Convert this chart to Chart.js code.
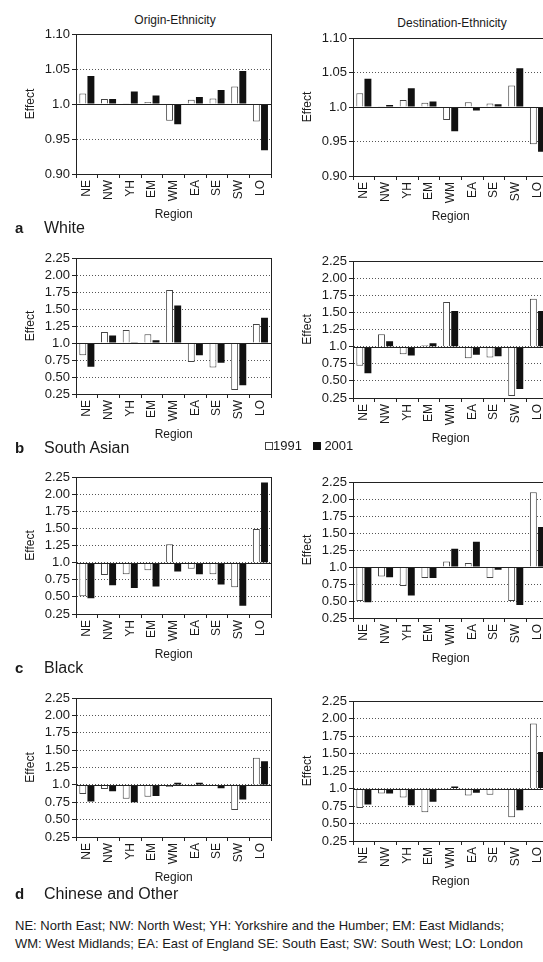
<!DOCTYPE html>
<html>
<head>
<meta charset="utf-8">
<script src="https://cdn.jsdelivr.net/npm/chart.js@4.4.1/dist/chart.umd.min.js"></script>
<style>
html, body { margin:0; padding:0; width:543px; height:962px; overflow:hidden; background:#fff; }
body { position:relative; font-family:"Liberation Sans", Arial, sans-serif; color:#1a1a1a; }
canvas { position:absolute; }
.t { position:absolute; white-space:nowrap; line-height:1; }
.c { transform:translateX(-50%); }
.box { display:inline-block; width:8px; height:8px; box-sizing:border-box; vertical-align:0; }
</style>
</head>
<body>

<div class="t c" style="left:175px; top:14px; font-size:12px;">Origin-Ethnicity</div>
<div class="t c" style="left:452px; top:17px; font-size:12px;">Destination-Ethnicity</div>

<canvas id="aLeft"></canvas><canvas id="aRight"></canvas>
<canvas id="bLeft"></canvas><canvas id="bRight"></canvas>
<canvas id="cLeft"></canvas><canvas id="cRight"></canvas>
<canvas id="dLeft"></canvas><canvas id="dRight"></canvas>

<div class="t" style="left:15px; top:220px; font-size:15px; font-weight:bold;">a</div>
<div class="t" style="left:44px; top:220px; font-size:16px;">White</div>
<div class="t" style="left:15px; top:440px; font-size:15px; font-weight:bold;">b</div>
<div class="t" style="left:44px; top:440px; font-size:16px;">South Asian</div>
<div class="t" style="left:15px; top:660px; font-size:15px; font-weight:bold;">c</div>
<div class="t" style="left:44px; top:660px; font-size:16px;">Black</div>
<div class="t" style="left:15px; top:886px; font-size:15px; font-weight:bold;">d</div>
<div class="t" style="left:44px; top:886px; font-size:16px;">Chinese and Other</div>

<!-- legend -->
<div class="t" style="left:265px; top:439px; font-size:13px;">
  <span class="box" style="border:1px solid #444; background:#fff;"></span>1991&nbsp;&nbsp;
  <span class="box" style="background:#111;"></span> 2001
</div>

<div class="t" style="left:15px; top:919px; font-size:13px;">NE: North East; NW: North West; YH: Yorkshire and the Humber; EM: East Midlands;</div>
<div class="t" style="left:15px; top:937px; font-size:13px;">WM: West Midlands; EA: East of England SE: South East; SW: South West; LO: London</div>

<script>
// regions along the x axis
const regions = ['NE', 'NW', 'YH', 'EM', 'WM', 'EA', 'SE', 'SW', 'LO'];

// y axis ticks and their labels
const whiteTicks = [0.90, 0.95, 1.0, 1.05, 1.10];
const whiteTickLabels = ['0.90', '0.95', '1.0', '1.05', '1.10'];
const otherTicks = [0.25, 0.50, 0.75, 1.0, 1.25, 1.50, 1.75, 2.00, 2.25];
const otherTickLabels = ['0.25', '0.50', '0.75', '1.0', '1.25', '1.50', '1.75', '2.00', '2.25'];

// a White
const whiteOrigin1991 = [1.015, 1.007, 1.001, 1.003, 0.976, 1.006, 1.008, 1.025, 0.975];
const whiteOrigin2001 = [1.040, 1.007, 1.018, 1.012, 0.971, 1.010, 1.020, 1.047, 0.934];
const whiteDest1991 = [1.020, 1.001, 1.010, 1.006, 0.981, 1.007, 1.005, 1.031, 0.946];
const whiteDest2001 = [1.041, 1.003, 1.027, 1.008, 0.965, 0.995, 1.004, 1.056, 0.935];

// b South Asian
const asianOrigin1991 = [0.82, 1.16, 1.19, 1.13, 1.78, 0.72, 0.64, 0.31, 1.28];
const asianOrigin2001 = [0.65, 1.11, 1.01, 1.04, 1.55, 0.82, 0.71, 0.38, 1.37];
const asianDest1991 = [0.72, 1.18, 0.89, 1.02, 1.65, 0.83, 0.84, 0.28, 1.70];
const asianDest2001 = [0.61, 1.08, 0.87, 1.05, 1.52, 0.88, 0.86, 0.38, 1.52];

// c Black
const blackOrigin1991 = [0.51, 0.82, 0.83, 0.89, 1.27, 0.91, 0.83, 0.64, 1.49];
const blackOrigin2001 = [0.48, 0.67, 0.63, 0.65, 0.87, 0.83, 0.68, 0.37, 2.17];
const blackDest1991 = [0.50, 0.86, 0.72, 0.84, 1.08, 1.06, 0.84, 0.50, 2.10];
const blackDest2001 = [0.48, 0.85, 0.58, 0.84, 1.27, 1.37, 0.96, 0.44, 1.59];

// d Chinese and Other
const otherOrigin1991 = [0.87, 0.94, 0.80, 0.83, 0.97, 0.98, 0.99, 0.64, 1.39];
const otherOrigin2001 = [0.76, 0.91, 0.75, 0.84, 1.03, 1.03, 0.95, 0.79, 1.34];
const otherDest1991 = [0.72, 0.93, 0.87, 0.66, 0.98, 0.90, 0.91, 0.59, 1.93];
const otherDest2001 = [0.77, 0.93, 0.76, 0.81, 1.03, 0.94, 0.99, 0.69, 1.52];

Chart.defaults.font.family = '"Liberation Sans", Arial, sans-serif';
Chart.defaults.color = '#1a1a1a';

//plot frame and the solid line at 1.0
const frame = {
  id: 'frame',
  afterDatasetsDraw(chart) {
    const {ctx, chartArea: a, scales: {y}} = chart;
    const base = Math.round(y.getPixelForValue(1)) + 0.5;
    ctx.save();
    ctx.strokeStyle = '#222';
    ctx.lineWidth = 1;
    ctx.beginPath();
    ctx.moveTo(a.left, base);
    ctx.lineTo(a.right, base);
    ctx.stroke();
    ctx.strokeRect(Math.round(a.left) + 0.5, Math.round(a.top) + 0.5, Math.round(a.width), Math.round(a.height));
    ctx.restore();
  }
};

//draw one panel; plot area starts 76px right of the canvas edge
function drawPanel(id, left, top, height, v1991, v2001, ticks, tickLabels) {
  const canvas = document.getElementById(id);
  canvas.width = 277;
  canvas.height = height + 60;
  canvas.style.left = left + 'px';
  canvas.style.top = (top - 10) + 'px';

  new Chart(canvas, {
    type: 'bar',
    data: {
      labels: regions,
      datasets: [
        {label: '1991', data: v1991, base: 1, backgroundColor: '#fff', borderColor: '#444', borderWidth: 1},
        {label: '2001', data: v2001, base: 1, backgroundColor: '#111', borderWidth: 0}
      ]
    },
    options: {
      responsive: false,
      animation: false,
      layout: {padding: {top: 10, left: 23, right: 3, bottom: 2}},
      plugins: {legend: {display: false}, tooltip: {enabled: false}},
      datasets: {bar: {categoryPercentage: 0.75, barPercentage: 0.85}},
      scales: {
        x: {
          grid: {drawOnChartArea: false, tickLength: 4, tickColor: '#222'},
          border: {color: '#222'},
          ticks: {minRotation: 90, maxRotation: 90, autoSkip: false, padding: 2, font: {size: 12}},
          title: {display: true, text: 'Region', padding: 0, font: {size: 12}},
          afterFit: s => { s.height = 48; }
        },
        y: {
          min: ticks[0],
          max: ticks[ticks.length - 1],
          afterBuildTicks: s => { s.ticks = ticks.map(v => ({value: v})); },
          grid: {color: '#555', tickLength: 4, tickColor: '#222', tickBorderDash: []},
          border: {color: '#222', dash: [1, 2]},
          ticks: {autoSkip: false, padding: 2, font: {size: 13}, callback: (v, i) => tickLabels[i]},
          title: {display: true, text: 'Effect', padding: 0, font: {size: 12}},
          afterFit: s => { s.width = 53; }
        }
      }
    },
    plugins: [frame]
  });
}

drawPanel('aLeft', 0, 34, 140, whiteOrigin1991, whiteOrigin2001, whiteTicks, whiteTickLabels);
drawPanel('aRight', 277, 38, 138, whiteDest1991, whiteDest2001, whiteTicks, whiteTickLabels);
drawPanel('bLeft', 0, 258, 136, asianOrigin1991, asianOrigin2001, otherTicks, otherTickLabels);
drawPanel('bRight', 277, 261, 137, asianDest1991, asianDest2001, otherTicks, otherTickLabels);
drawPanel('cLeft', 0, 477, 137, blackOrigin1991, blackOrigin2001, otherTicks, otherTickLabels);
drawPanel('cRight', 277, 482, 136, blackDest1991, blackDest2001, otherTicks, otherTickLabels);
drawPanel('dLeft', 0, 698, 139, otherOrigin1991, otherOrigin2001, otherTicks, otherTickLabels);
drawPanel('dRight', 277, 701, 140, otherDest1991, otherDest2001, otherTicks, otherTickLabels);
</script>
</body>
</html>
